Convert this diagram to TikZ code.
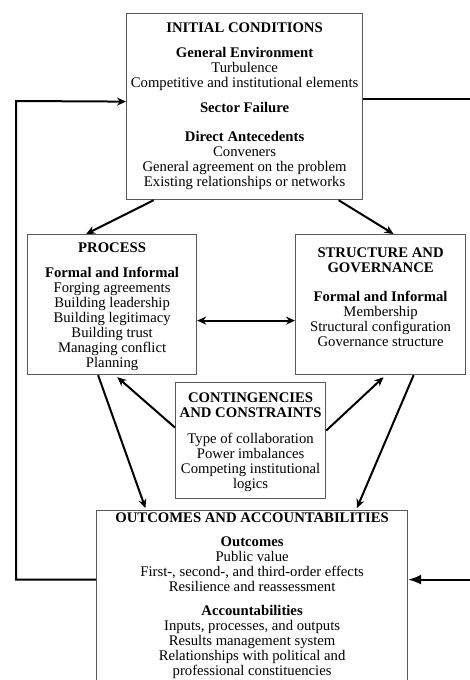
\documentclass[tikz,border=0pt]{standalone}
\usepackage{fontspec}
\setmainfont{Liberation Serif}
\usetikzlibrary{arrows.meta}
\def\boxbody#1#2#3#4{\parbox[c][#2][t]{#1}{\centering\vspace*{#3}#4\par}}

\tikzset{
	stage/.style={draw=black!65, line width=1.2pt, inner sep=0pt, anchor=north west, font=\fontsize{14.7}{15}\selectfont},
	flow/.style={line width=2pt, -{Stealth[length=9pt,width=8pt]}},
	bothflow/.style={line width=2pt, {Stealth[length=9pt,width=8pt]}-{Stealth[length=9pt,width=8pt]}},
	bigflow/.style={line width=2pt, -{Latex[length=13pt,width=10pt]}}
}

\begin{document}
\begin{tikzpicture}[x=1pt, y=-1pt]
			%%%%% START %%%%%
			\path[use as bounding box, clip] (0, 0) rectangle (470, 680);
			
			\node[stage] (init) at (126, 13) {\boxbody{236pt}{186pt}{9pt}{%
				\textbf{INITIAL CONDITIONS}\\[10pt]
				\textbf{General Environment}\\
				Turbulence\\
				Competitive and institutional elements\\[10pt]
				\textbf{Sector Failure}\\[14pt]
				\textbf{Direct Antecedents}\\
				Conveners\\
				General agreement on the problem\\
				Existing relationships or networks}};
			
			\node[stage] (proc) at (27, 234) {\boxbody{169pt}{140pt}{8pt}{%
				\textbf{PROCESS}\\[10pt]
				\textbf{Formal and Informal}\\
				Forging agreements\\
				Building leadership\\
				Building legitimacy\\
				Building trust\\
				Managing conflict\\
				Planning}};
			
			\node[stage] (sg) at (295, 234) {\boxbody{170pt}{140pt}{13pt}{%
				\textbf{STRUCTURE AND}\\
				\textbf{GOVERNANCE}\\[14pt]
				\textbf{Formal and Informal}\\
				Membership\\
				Structural configuration\\
				Governance structure}};
			
			\node[stage] (cc) at (175, 382) {\boxbody{150pt}{116pt}{10pt}{%
				\textbf{CONTINGENCIES}\\
				\textbf{AND CONSTRAINTS}\\[11pt]
				Type of collaboration\\
				Power imbalances\\
				Competing institutional\\
				logics}};
			
			\node[stage] (out) at (96, 510) {\boxbody{311pt}{200pt}{2pt}{%
				\textbf{OUTCOMES AND ACCOUNTABILITIES}\\[9pt]
				\textbf{Outcomes}\\
				Public value\\
				First-, second-, and third-order effects\\
				Resilience and reassessment\\[9pt]
				\textbf{Accountabilities}\\
				Inputs, processes, and outputs\\
				Results management system\\
				Relationships with political and\\
				professional constituencies}};
			
			\coordinate (loopL) at (16, 101);
			\coordinate (loopR) at (490, 98);
			
			\draw[flow] ([xshift=-91pt]init.south) -- ([xshift=-26pt]proc.north);
			\draw[flow] ([xshift=94pt]init.south) -- ([xshift=13pt]sg.north);
			\draw[bothflow] ([yshift=-16pt]proc.east) -- ([yshift=-16pt]sg.west);
			
			\draw[flow, shorten >=3pt] ([yshift=13pt]cc.west) -- ([xshift=3pt]proc.south);
			\draw[flow, shorten >=3pt] ([yshift=10pt]cc.east) -- ([xshift=5pt]sg.south);
			
			\draw[flow, shorten >=2pt] ([xshift=-14pt]proc.south) -- ([xshift=-106pt]out.north);
			\draw[flow, shorten >=2pt] ([xshift=33pt]sg.south) -- ([xshift=104pt]out.north);
			
			\draw[flow] ([yshift=31pt]out.west) -| (loopL) -- ([yshift=5pt]init.west);
			\draw[bigflow] ([yshift=8pt]init.east) -| (loopR) |- ([yshift=31pt]out.east);
			
			%%%%% END %%%%%
\end{tikzpicture}
\end{document}
